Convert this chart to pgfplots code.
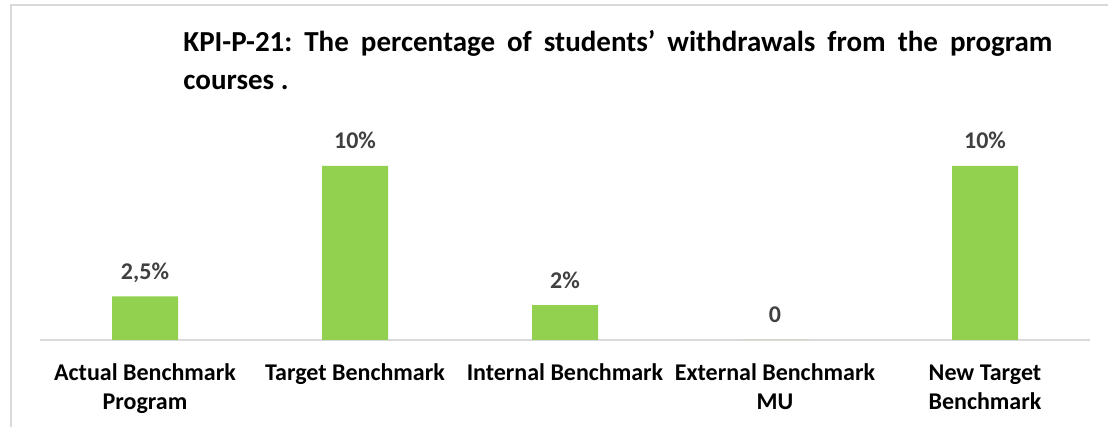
\documentclass[border=0pt]{standalone}
\usepackage{fontspec}
\setmainfont{Carlito}
\usepackage{pgfplots}
\pgfplotsset{compat=1.18}
\definecolor{barGreen}{RGB}{146,208,80}
\definecolor{labGray}{RGB}{64,64,64}
\definecolor{frameGray}{RGB}{217,217,217}
\newcommand{\lab}[1]{\begin{tabular}[t]{@{}c@{}}#1\end{tabular}}
\frenchspacing
\begin{document}
\begin{tikzpicture}
\useasboundingbox (0,0) rectangle (554pt,213.5pt);
% chart area frame (only top and left edges are visible)
\draw[frameGray, line width=1pt] (5.5pt,0) -- (5.5pt,211pt) -- (554pt,211pt);
\node[anchor=base west, inner sep=0, text width=434.5pt, align=justify,
      font=\fontsize{14.5}{19}\selectfont\bfseries] at (91.5pt,187.5pt)
  {KPI-P-21: The percentage of students’ withdrawals from the program\linebreak courses .};
\begin{axis}[at={(20pt,43.5pt)}, anchor=south west, scale only axis,
  width=525pt, height=104.4pt,
  xmin=-0.5, xmax=4.5, ymin=0, ymax=12,
  ybar, bar width=33pt,
  axis y line=none, axis x line*=bottom,
  x axis line style={frameGray, line width=0.75pt, -},
  xtick={0,...,4},
  xticklabels={{\lab{Actual Benchmark\\Program}}, {\lab{Target Benchmark}}, {\lab{Internal Benchmark}}, {\lab{External Benchmark\\MU}}, {\lab{New Target\\Benchmark}}},
  major tick length=0,
  xticklabel style={anchor=base, inner sep=0, yshift=-20.5pt,
    font=\fontsize{12}{14.5}\selectfont\bfseries},
  nodes near coords, point meta=explicit symbolic,
  nodes near coords style={anchor=base, yshift=8.5pt,
    font=\fontsize{12}{14}\selectfont\bfseries, text=labGray},
  clip=false]
\addplot[fill=barGreen, draw=none] coordinates {
  (0,2.5) [2,5\%]
  (1,10) [10\%]
  (2,2) [2\%]
  (3,0) [0]
  (4,10) [10\%]
};
\end{axis}
\end{tikzpicture}
\end{document}
